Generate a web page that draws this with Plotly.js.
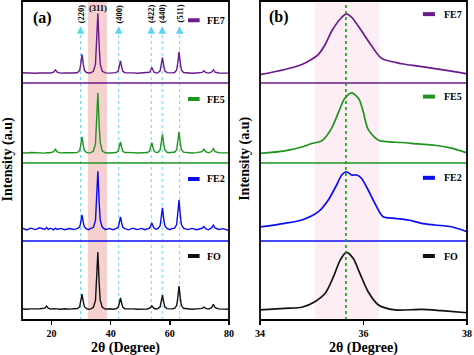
<!DOCTYPE html>
<html><head><meta charset="utf-8">
<script src="https://cdn.plot.ly/plotly-3.0.1.min.js"></script>
<style>html,body{margin:0;padding:0;background:#fff}#chart{width:474px;height:355px}</style>
</head><body><div id="chart"></div>
<script>
// ---- Panel (a): full XRD patterns ----
const twoThetaA = [10, 11.5, 13, 14.5, 16, 17.7, 18.3, 18.9, 19.6, 20.7,
 21.3, 21.9, 23, 24.5, 26, 27.5, 28.8, 29.5, 29.85, 30.3,
 30.75, 31.1, 31.8, 32.5, 33.3, 34.15, 34.85, 35.2, 35.65, 36.1,
 36.45, 37.15, 38.2, 39.5, 40.7, 41.8, 42.5, 42.85, 43.3, 43.75,
 44.1, 44.8, 46, 47.5, 49, 50.5, 51.5, 52.4, 53.1, 53.45,
 53.9, 54.35, 54.7, 55.4, 56.0, 56.7, 57.05, 57.5, 57.95, 58.3,
 59.0, 60.0, 60.8, 61.6, 62.3, 62.65, 63.1, 63.55, 63.9, 64.6,
 66, 67.5, 69, 70.9, 71.5, 72.1, 73.0, 74.1, 74.7, 75.3,
 76.5, 78, 79, 80];
const fe7A = [12.5,12.0,12.4,11.9,12.3,12.1,12.6,12.0,12.2,13.3,
 16.1,13.2,12.1,12.4,11.9,12.3,12.8,15.5,22.4,35.0,
 22.4,15.5,12.8,12.2,12.5,14.3,23,45,85,45,
 23,14.3,12.3,12.0,12.4,12.6,14.3,18.8,27,18.8,
 14.3,12.6,12.1,12.4,11.9,12.3,12.0,12.3,13.1,15.2,
 19,15.2,13.1,12.3,12.6,14.9,20.6,31,20.6,14.9,
 12.7,12.1,12.4,12.8,15.9,23.7,38,23.7,15.9,12.8,
 12.2,11.9,12.3,12.9,15.0,12.9,12.1,13.2,16.0,13.2,
 12.3,11.8,12.2,12.0];
const fe5A = [12.9,12.5,13.1,12.6,12.9,12.4,12.9,12.6,12.8,14.1,
 17.2,14.0,12.6,13.0,12.5,12.8,13.3,15.7,21.7,32.7,
 21.7,15.7,13.3,12.6,12.9,15.0,24.0,46.5,87.7,46.5,
 25.5,15.0,12.8,12.5,12.9,13.1,14.7,18.8,26.3,18.8,
 14.7,13.1,12.6,12.9,12.5,12.8,12.7,13.1,14.6,18.5,
 25.5,18.5,14.6,13.1,13.4,16.2,23.1,35.7,23.1,16.2,
 13.4,12.8,13.5,13.5,16.6,24.4,38.6,24.4,16.6,13.5,
 12.8,12.5,12.9,14.1,17.2,14.1,12.7,14.3,18.0,14.3,
 12.8,12.6,12.9,12.6];
const fe2A = [16.8,14.2,16.5,14.6,16.9,14.8,17.2,15.0,16.4,14.3,
 16.6,14.9,16.2,14.4,16.0,14.7,16.3,18.1,23.5,33.4,
 23.5,18.1,15.6,14.5,16.3,17.6,26.5,48.7,89.4,48.7,
 26.5,17.6,14.6,16.2,14.5,15.9,17.7,22.3,30.8,22.3,
 17.7,15.9,14.3,16.4,14.6,16.1,14.5,15.6,16.5,18.8,
 23.0,18.8,16.5,15.0,16.2,19.5,27.6,42.4,27.6,19.5,
 16.2,14.5,16.1,16.5,21.0,32.1,52.4,32.1,21.0,16.5,
 14.6,16.2,14.5,16.3,18.6,15.9,14.4,16.8,20.5,16.7,
 14.8,15.9,14.2,13.5];
const foA = [14.3,13.6,14.1,13.7,14.2,15.0,17.7,15.0,13.8,14.2,
 13.7,14.1,13.6,14.2,13.8,14.1,14.5,16.8,22.5,32.9,
 22.5,16.8,14.5,13.7,14.1,16.1,24.7,46.3,85.9,46.3,
 24.7,16.1,13.8,14.2,13.7,14.3,16.0,20.2,27.9,20.2,
 16.0,14.3,13.8,14.1,13.6,14.2,13.8,14.0,14.5,15.7,
 17.9,15.7,14.5,14.0,14.4,16.6,21.9,31.6,21.9,16.6,
 14.4,13.8,14.1,14.8,18.3,27.0,42.9,27.0,18.3,14.8,
 14.0,13.6,14.1,14.7,16.4,14.7,13.8,15.7,19.9,15.7,
 14.1,13.7,14.0,13.6];

// ---- Panel (b): zoom on (311) ----
const twoThetaB_FE7 = [34.0,34.48,34.81,35.0,35.13,35.26,35.39,35.58,35.67,35.77,35.96,36.16,36.35,36.74,37.06,37.38,37.7,38.0];
const fe7B = [10.3,16.5,22.6,29,35,47,63.8,80.2,84.4,80.2,63.8,45,30,23.5,20.6,17.5,14.4,11.1];
const twoThetaB_FE5 = [34.0,34.48,34.81,35.0,35.2,35.38,35.53,35.63,35.77,35.91,35.99,36.09,36.29,36.5,36.74,37.06,37.38,37.7,38.0];
const fe5B = [12,15.2,20,24.3,28,43,65.4,80,87.7,80,65.4,42,28.4,26.5,25.6,23.8,22.2,18.5,12.7];
const twoThetaB_FE2 = [34.0,34.48,34.81,35.13,35.32,35.48,35.58,35.67,35.77,35.87,35.96,36.09,36.22,36.38,36.61,36.87,37.12,37.38,37.7,38.0];
const fe2B = [18,22.7,26.9,37.6,52.6,71.8,84.6,88.8,84.6,84.6,80.4,65.4,48.3,31.2,29.1,26.9,22.7,20.5,18.3,11.9];
const twoThetaB_FO = [34.0,34.48,34.81,35.06,35.26,35.42,35.55,35.67,35.80,35.93,36.09,36.29,36.61,37.12,37.51,38.0];
const foB = [12.7,14.8,16.1,23.2,33.8,54.8,75.9,85.7,78.1,59.1,35.8,19,12.7,13.5,11.8,9.2];

const sampleNames = ['FE7','FE5','FE2','FO'];
const sampleColors = ['#6a1a8c','#1f951f','#0b0bf0','#111111'];
const peakHKL = ['(220)','(311)','(400)','(422)','(440)','(511)'];
const peakLinePos = [29.8, 35.65, 42.7, 53.7, 57.4, 63.3];
const bandA = [32.3, 38.7];
const bandB = [35.06, 36.3];
const peakLineB = 35.66;
const ticksA = [20,40,60,80];
const ticksB = [34,36,38];

const FONT = 'Liberation Serif, Times New Roman, serif';
const domA = [0, 0.4652], domB = [0.5348, 1];
const yDoms = [[0.7429,1],[0.4922,0.7429],[0.2476,0.4922],[0,0.2476]]; // FE7, FE5, FE2, FO
const dataA = [fe7A, fe5A, fe2A, foA];
const dataB = [[twoThetaB_FE7,fe7B],[twoThetaB_FE5,fe5B],[twoThetaB_FE2,fe2B],[twoThetaB_FO,foB]];

const traces = [];
const layout = {
  width:474, height:355, margin:{l:22,r:7,t:1,b:35},
  paper_bgcolor:'#fff', plot_bgcolor:'rgba(0,0,0,0)', showlegend:false,
  font:{family:FONT, color:'#000'},
  shapes:[], annotations:[]
};
const axNames = ['y4','y3','y2','y'];    // panel a
const axNamesB = ['y8','y7','y6','y5'];  // panel b
const tickfont = {family:FONT, size:10, color:'#000', weight:'bold'};
layout.xaxis = {domain:domA, range:[10,80], anchor:'y', tickvals:ticksA, ticks:'outside', ticklen:4, tickwidth:1.5, tickcolor:'#000', showgrid:false, zeroline:false, showline:false, tickfont};
layout.xaxis2 = {domain:domB, range:[34,38], anchor:'y5', tickvals:ticksB, ticks:'outside', ticklen:4, tickwidth:1.5, tickcolor:'#000', showgrid:false, zeroline:false, showline:false, tickfont};
function yax(dom, anchor){return {domain:dom, range:[0,100], anchor, showticklabels:false, ticks:'', showgrid:false, zeroline:false, showline:false, fixedrange:true};}
function A(o){ return Object.assign({showarrow:false, xanchor:'center', yanchor:'middle'}, o); }

// bands first (below traces)
layout.shapes.push({type:'rect', xref:'x', yref:'paper', x0:bandA[0], x1:bandA[1], y0:0, y1:1, fillcolor:'rgba(230,100,100,0.3)', line:{width:0}, layer:'below'});
layout.shapes.push({type:'rect', xref:'x2', yref:'paper', x0:bandB[0], x1:bandB[1], y0:0, y1:1, fillcolor:'rgba(245,170,205,0.2)', line:{width:0}, layer:'below'});
// cyan dotted reference lines + labels
peakHKL.forEach((lab,i)=>{
  const x = peakLinePos[i];
  if (lab === '(311)') {
    layout.annotations.push(A({x, xref:'x', y:0.979, yref:'paper', text:'<b>'+lab+'</b>', font:{family:FONT,size:8.5,color:'#000'}}));
    return;
  }
  layout.shapes.push({type:'line', xref:'x', yref:'paper', x0:x, x1:x, y0:0, y1:0.9, line:{color:'rgb(110,215,240)', width:1, dash:'dot'}, layer:'below'});
  layout.annotations.push(A({x, xref:'x', y:0.96, yref:'paper', text:'<b>'+lab+'</b>', textangle:-90, font:{family:FONT,size:8.5,color:'#000'}}));
  layout.annotations.push({x, xref:'x', y:0.921, yref:'paper', text:'', showarrow:true, ax:0, ay:9, arrowhead:2, arrowsize:1, arrowwidth:1.5, arrowcolor:'rgb(90,215,240)', standoff:0});
});

sampleNames.forEach((name,i)=>{
  const ya = axNames[i], yb = axNamesB[i];
  const keyA = 'yaxis' + (ya==='y'?'':ya.slice(1));
  const keyB = 'yaxis' + yb.slice(1);
  layout[keyA] = yax(yDoms[i], 'x');
  layout[keyB] = yax(yDoms[i], 'x2');
  traces.push({type:'scatter', mode:'lines', x:twoThetaA, y:dataA[i], xaxis:'x', yaxis:ya, line:{color:sampleColors[i], width:1.4}, hoverinfo:'skip'});
  traces.push({type:'scatter', mode:'lines', x:dataB[i][0], y:dataB[i][1], xaxis:'x2', yaxis:yb, line:{color:sampleColors[i], width:1.7, shape:'spline', smoothing:0.8}, hoverinfo:'skip'});
  // legend swatches and text
  const legYA = [0.765,0.80,0.795,0.81][i], legYB = [0.84,0.83,0.81,0.81][i];
  [['x',ya,legYA,0.802,0.858,0.885],['x2',yb,legYB,0.787,0.845,0.878]].forEach(([xr,yr,ly,s0,s1,tx])=>{
    layout.shapes.push({type:'line', xref:xr+' domain', yref:yr+' domain', x0:s0, x1:s1, y0:ly, y1:ly, line:{color:sampleColors[i], width:4}});
    layout.annotations.push({xref:xr+' domain', yref:yr+' domain', x:tx, y:ly, xanchor:'left', yanchor:'middle', text:'<b>'+name+'</b>', showarrow:false, font:{family:FONT,size:10,color:'#000'}});
  });
  // coloured separator under each upper subplot
  if (i < 3) {
    [domA, domB].forEach(d=>{
      layout.shapes.push({type:'line', xref:'paper', yref:'paper', x0:d[0], x1:d[1], y0:yDoms[i][0], y1:yDoms[i][0], line:{color:sampleColors[i], width:1.5}});
    });
  }
});
// green dotted line in (b)
layout.shapes.push({type:'line', xref:'x2', yref:'paper', x0:peakLineB, x1:peakLineB, y0:0, y1:1, line:{color:'rgb(0,170,0)', width:1.6, dash:'dot'}});
// frames
[domA, domB].forEach(d=>{
  layout.shapes.push({type:'rect', xref:'paper', yref:'paper', x0:d[0], x1:d[1], y0:0, y1:1, line:{color:'#000', width:1.8}});
});
// titles & panel labels
const ann = layout.annotations;
ann.push(A({xref:'paper', yref:'paper', x:0.045, y:0.947, text:'<b>(a)</b>', font:{family:FONT,size:16,color:'#000'}}));
ann.push(A({xref:'paper', yref:'paper', x:0.5775, y:0.95, text:'<b>(b)</b>', font:{family:FONT,size:16,color:'#000'}}));
ann.push(A({xref:'paper', yref:'paper', x:-0.0326, y:0.505, text:'<b>Intensity (a.u)</b>', textangle:-90, font:{family:FONT,size:14,color:'#000'}}));
ann.push(A({xref:'paper', yref:'paper', x:0.501, y:0.505, text:'<b>Intensity (a.u)</b>', textangle:-90, font:{family:FONT,size:14,color:'#000'}}));
ann.push(A({xref:'paper', yref:'paper', x:0.2326, y:-0.088, text:'<b>2θ (Degree)</b>', font:{family:FONT,size:14,color:'#000'}}));
ann.push(A({xref:'paper', yref:'paper', x:0.767, y:-0.088, text:'<b>2θ (Degree)</b>', font:{family:FONT,size:14,color:'#000'}}));

Plotly.newPlot('chart', traces, layout, {staticPlot:true, displayModeBar:false});
</script></body></html>
